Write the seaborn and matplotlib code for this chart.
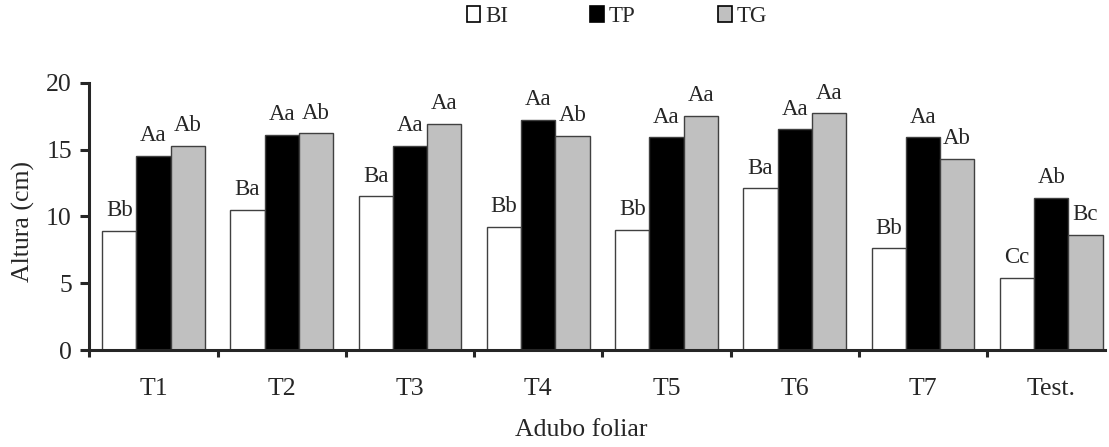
import pandas as pd
import numpy as np
import matplotlib.pyplot as plt
from matplotlib.patches import Patch
import seaborn as sns

# dados
adubos = ['T1', 'T2', 'T3', 'T4', 'T5', 'T6', 'T7', 'Test.']
bi = [8.9, 10.5, 11.5, 9.2, 9.0, 12.1, 7.6, 5.4]
tp = [14.5, 16.1, 15.3, 17.2, 15.9, 16.5, 15.9, 11.4]
tg = [15.3, 16.2, 16.9, 16.0, 17.5, 17.7, 14.3, 8.6]

letras_bi = ['Bb', 'Ba', 'Ba', 'Bb', 'Bb', 'Ba', 'Bb', 'Cc']
letras_tp = ['Aa', 'Aa', 'Aa', 'Aa', 'Aa', 'Aa', 'Aa', 'Ab']
letras_tg = ['Ab', 'Ab', 'Aa', 'Ab', 'Aa', 'Aa', 'Ab', 'Bc']

series = ['BI', 'TP', 'TG']
cores = ['white', 'black', '#c0c0c0']

df = pd.DataFrame({
    'Adubo foliar': adubos * 3,
    'Altura': bi + tp + tg,
    'Serie': [s for s in series for _ in adubos],
})

sns.set_style('ticks')
plt.rcParams['font.family'] = ['Liberation Serif', 'DejaVu Serif']

fig = plt.figure(figsize=(11.09, 4.47), dpi=100)
ax = fig.add_axes([0.0805, 0.217, 0.916, 0.598])

sns.barplot(data=df, x='Adubo foliar', y='Altura', hue='Serie', hue_order=series,
            palette=cores, edgecolor='#404040', linewidth=1, saturation=1,
            legend=False, ax=ax)

for cont, letras in zip(ax.containers, [letras_bi, letras_tp, letras_tg]):
    ax.bar_label(cont, labels=letras, padding=7, fontsize=16.5)

ax.set_ylim(0, 20)
ax.set_xlim(-0.5, 7.42)
ax.set_yticks([0, 5, 10, 15, 20])
ax.set_xticks(np.arange(-0.5, 7, 1))
ax.set_xticklabels([])
ax.set_xticks(range(len(adubos)), minor=True)
ax.set_xticklabels(adubos, minor=True)
ax.tick_params(axis='x', which='minor', length=0, pad=20, labelsize=18.5)
ax.tick_params(axis='x', which='major', length=5, width=2.2, direction='out')
ax.tick_params(axis='y', length=6.5, width=2.2, pad=6, labelsize=18.5)

for s in ['top', 'right']:
    ax.spines[s].set_visible(False)
for s in ['left', 'bottom']:
    ax.spines[s].set_linewidth(2.2)

ax.set_ylabel('Altura (cm)', fontsize=18.5, labelpad=8)
ax.set_xlabel('Adubo foliar', fontsize=18.5, labelpad=14)
ax.xaxis.label.set_x(0.484)
ax.yaxis.label.set_y(0.48)

handles = [Patch(facecolor=c, edgecolor='black', linewidth=1.2) for c in cores]
fig.legend(handles, series, loc='center', bbox_to_anchor=(0.556, 0.963), ncol=3,
           frameon=False, fontsize=16.5, handlelength=0.6, handleheight=0.7,
           handletextpad=0.2, columnspacing=3.6)

fig.savefig('out.png', dpi=100)
